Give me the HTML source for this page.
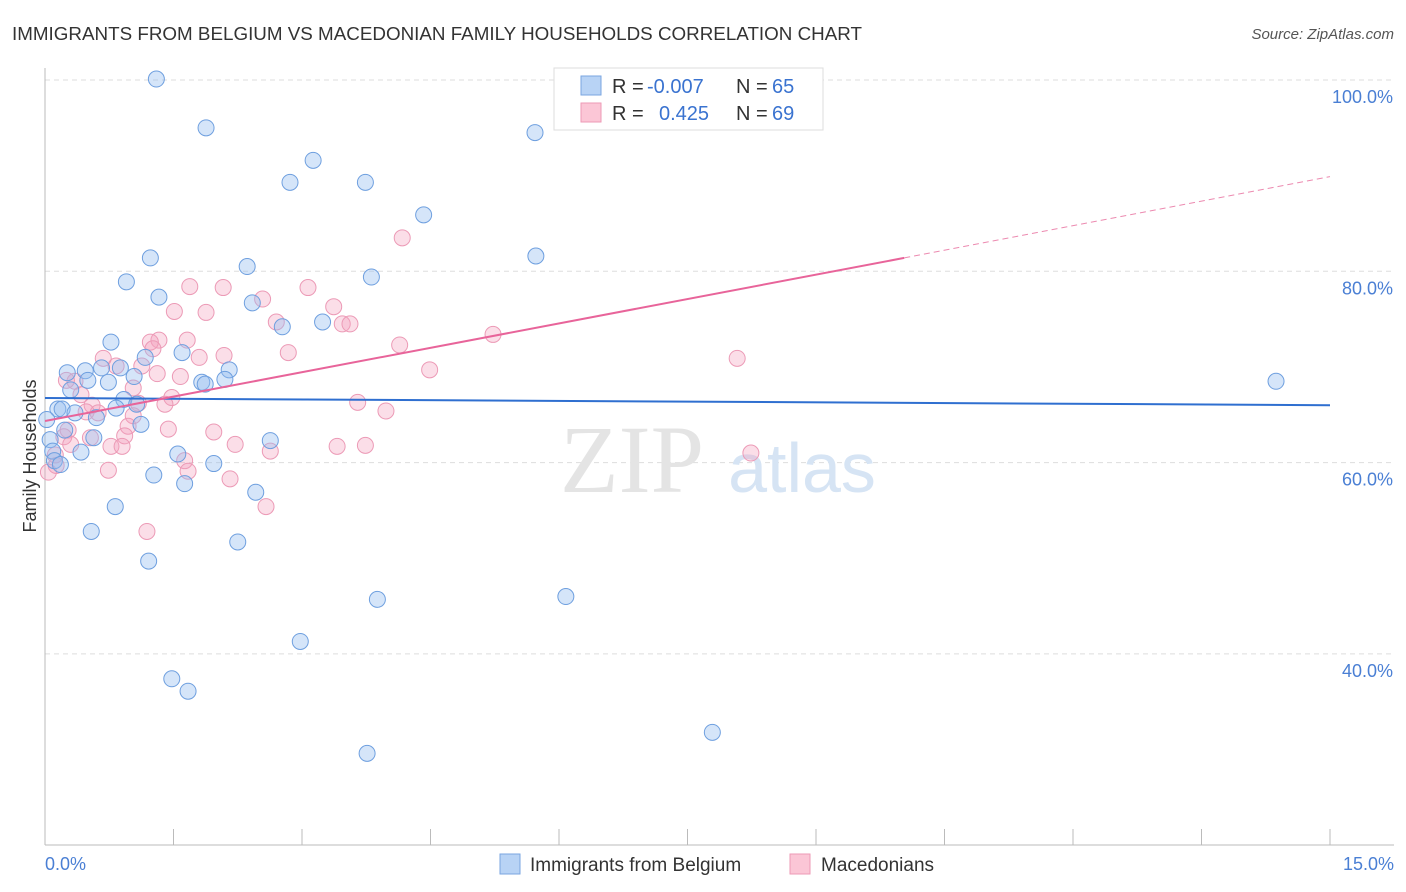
<!DOCTYPE html>
<html><head><meta charset="utf-8"><style>
body{margin:0;background:#fff;font-family:"Liberation Sans",sans-serif;}
#c{position:absolute;left:0;top:0;width:1406px;height:892px;}
</style></head><body>
<svg id="c" width="1406" height="892">
<text x="12" y="40" font-size="18" fill="#333" textLength="850" lengthAdjust="spacingAndGlyphs">IMMIGRANTS FROM BELGIUM VS MACEDONIAN FAMILY HOUSEHOLDS CORRELATION CHART</text>
<text x="1394" y="39" font-size="15" fill="#555" font-style="italic" text-anchor="end">Source: ZipAtlas.com</text>
<g id="grid"></g>
<text x="632" y="492" font-size="96" fill="#e4e4e4" font-family="Liberation Serif" text-anchor="middle">ZIP</text>
<text x="802" y="492" font-size="70" fill="#d6e4f4" text-anchor="middle">atlas</text>
<g id="pts"></g>
<g id="lines"></g>
<text x="36" y="456" font-size="18" fill="#333" transform="rotate(-90 36 456)" text-anchor="middle">Family Households</text>
<text x="45" y="870" font-size="18" fill="#4a7fd4">0.0%</text>
<text x="1394" y="870" font-size="18" fill="#4a7fd4" text-anchor="end">15.0%</text>
<g>
<rect x="554" y="68" width="269" height="62" fill="#fff" stroke="#ddd"/>
<rect x="581" y="76" width="20" height="19" fill="#b8d3f5" stroke="#7aa6e0"/>
<rect x="581" y="103" width="20" height="19" fill="#fbc6d6" stroke="#ee9ab6"/>
<text x="612" y="93" font-size="20" fill="#333">R =</text>
<text x="647" y="93" font-size="20" fill="#3a73d0">-0.007</text>
<text x="736" y="93" font-size="20" fill="#333">N =</text>
<text x="772" y="93" font-size="20" fill="#3a73d0">65</text>
<text x="612" y="120" font-size="20" fill="#333">R =</text>
<text x="659" y="120" font-size="20" fill="#3a73d0">0.425</text>
<text x="736" y="120" font-size="20" fill="#333">N =</text>
<text x="772" y="120" font-size="20" fill="#3a73d0">69</text>
</g>
<g>
<rect x="500" y="854" width="20" height="20" fill="#b8d3f5" stroke="#7aa6e0"/>
<text x="530" y="871" font-size="19" fill="#333">Immigrants from Belgium</text>
<rect x="790" y="854" width="20" height="20" fill="#fbc6d6" stroke="#ee9ab6"/>
<text x="821" y="871" font-size="19" fill="#333">Macedonians</text>
</g>
</svg>
<script>
const yTicks=[100,80,60,40];
const yTickLabels=["100.0%","80.0%","60.0%","40.0%"];
const xTicks=[0,1.5,3,4.5,6,7.5,9,10.5,12,13.5,15];
const blueX=[1.30,1.88,3.13,2.86,3.74,5.72,4.42,5.73,1.23,2.36,0.95,3.81,1.33,2.42,3.24,2.77,0.77,1.60,1.17,0.26,0.47,0.66,0.88,2.15,1.04,0.74,0.50,1.83,2.10,1.87,0.30,14.37,0.92,1.07,0.83,0.15,0.20,0.35,0.60,1.12,0.23,0.06,0.57,2.63,0.09,0.42,1.55,0.11,1.97,1.27,1.63,2.46,0.82,0.54,2.25,1.21,3.88,6.08,2.98,1.48,1.67,7.79,3.76,0.02,0.18];
const blueY=[100.1,95.0,91.6,89.3,89.3,94.5,85.9,81.6,81.4,80.5,78.9,79.4,77.3,76.7,74.7,74.2,72.6,71.5,71.0,69.4,69.6,69.9,69.9,69.7,69.0,68.4,68.6,68.4,68.7,68.2,67.6,68.5,66.6,66.1,65.7,65.6,65.6,65.2,64.7,64.0,63.4,62.4,62.6,62.3,61.2,61.1,60.9,60.2,59.9,58.7,57.8,56.9,55.4,52.8,51.7,49.7,45.7,46.0,41.3,37.4,36.1,31.8,29.6,64.5,59.8];
const pinkX=[8.31,4.17,1.69,2.08,3.07,2.54,3.37,1.88,1.51,2.70,3.47,3.56,5.23,1.33,1.66,1.23,4.14,1.26,2.84,2.09,1.80,0.68,8.08,1.13,0.83,4.49,1.31,1.58,0.35,1.03,0.42,1.48,1.40,3.65,0.55,1.09,0.48,3.98,1.03,0.97,1.44,0.27,1.97,0.93,0.22,0.53,2.22,0.30,0.77,0.90,3.41,3.74,2.63,8.24,0.12,1.63,0.13,0.74,1.67,0.04,2.16,2.58,1.19,0.25,0.62];
const pinkY=[97.7,83.5,78.4,78.3,78.3,77.1,76.3,75.7,75.8,74.7,74.5,74.5,73.4,72.8,72.8,72.6,72.3,71.9,71.5,71.2,71.0,70.9,70.9,70.1,70.1,69.7,69.3,69.0,68.5,67.8,67.1,66.8,66.1,66.3,66.0,66.2,65.3,65.4,64.9,63.8,63.5,63.4,63.2,62.8,62.7,62.6,61.9,61.9,61.7,61.7,61.7,61.8,61.2,61.0,60.8,60.2,59.7,59.2,59.1,59.0,58.3,55.4,52.8,68.6,65.2];
const blueTrend=[[0,66.75],[15,66.0]];
const pinkTrendSolid=[[0,64.35],[10.03,81.4]];
const pinkTrendDash=[[10.03,81.4],[15,89.9]];
const X=v=>45+v/15*1285, Y=v=>80+(100-v)*9.565;
const NS="http://www.w3.org/2000/svg";
function mk(p,t,a){const e=document.createElementNS(NS,t);for(const k in a)e.setAttribute(k,a[k]);document.getElementById(p).appendChild(e);return e;}
yTicks.forEach((t,i)=>{
 const l=mk('grid','line',{x1:45,x2:1394,y1:Y(t),y2:Y(t),stroke:'#ddd','stroke-dasharray':'5,4'});
 
 
 const tx=mk('grid','text',{x:1393,y:Y(t)+23,'font-size':18,fill:'#4a7fd4','text-anchor':'end'});
 tx.textContent=yTickLabels[i];
 
 
});
const ax=mk('grid','line',{x1:45,x2:1394,y1:845,y2:845,stroke:'#bbb'});


const ay=mk('grid','line',{x1:45,x2:45,y1:68,y2:845,stroke:'#bbb'});


xTicks.forEach(t=>{const l=mk('grid','line',{x1:X(t),x2:X(t),y1:829,y2:845,stroke:'#bbb'});
 
 });
pinkX.forEach((x,i)=>{const c=mk('pts','circle',{cx:X(x),cy:Y(pinkY[i]),r:8,fill:'rgba(244,160,190,0.35)',stroke:'#ec9ab6','stroke-width':1});
 
 });
blueX.forEach((x,i)=>{const c=mk('pts','circle',{cx:X(x),cy:Y(blueY[i]),r:8,fill:'rgba(150,190,240,0.4)',stroke:'#6e9fdf','stroke-width':1});
 
 });
const b=mk('lines','line',{x1:X(blueTrend[0][0]),y1:Y(blueTrend[0][1]),x2:X(blueTrend[1][0]),y2:Y(blueTrend[1][1]),stroke:'#2f6fd0','stroke-width':2});


const p=mk('lines','line',{x1:X(pinkTrendSolid[0][0]),y1:Y(pinkTrendSolid[0][1]),x2:X(pinkTrendSolid[1][0]),y2:Y(pinkTrendSolid[1][1]),stroke:'#e8649a','stroke-width':2});


const pd=mk('lines','line',{x1:X(pinkTrendDash[0][0]),y1:Y(pinkTrendDash[0][1]),x2:X(pinkTrendDash[1][0]),y2:Y(pinkTrendDash[1][1]),stroke:'#ec8ab0','stroke-width':1,'stroke-dasharray':'6,4'});


</script>
</body></html>
